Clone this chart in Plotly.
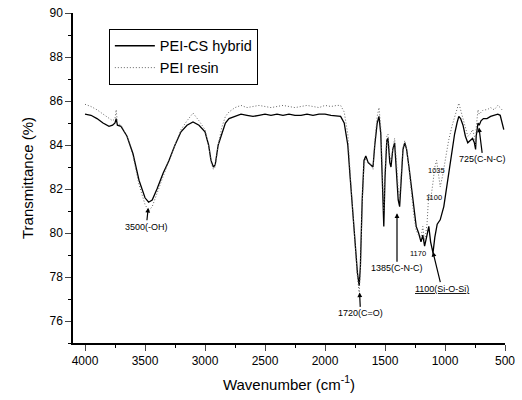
import plotly.graph_objects as go

wn_hybrid = [4000,3950,3900,3850,3800,3770,3750,3740,3730,3700,3650,3600,3550,3500,3470,3440,3400,3350,3300,3250,3200,3150,3100,3050,3000,2970,2950,2930,2915,2890,2860,2830,2800,2750,2700,2650,2600,2550,2500,2450,2400,2350,2300,2250,2200,2150,2100,2050,2000,1950,1900,1870,1840,1810,1790,1770,1750,1730,1715,1705,1690,1675,1660,1640,1620,1600,1585,1565,1550,1535,1520,1510,1500,1485,1475,1460,1450,1435,1420,1405,1390,1378,1365,1350,1335,1320,1300,1280,1260,1240,1220,1200,1185,1170,1150,1135,1120,1100,1085,1065,1040,1010,980,950,920,900,885,870,850,830,810,790,770,755,745,740,730,725,715,700,680,650,620,590,560,540,525,510]
t_hybrid = [85.4,85.35,85.2,85.0,84.85,84.9,85.0,85.2,84.9,84.85,84.4,83.6,82.4,81.6,81.4,81.5,82.0,82.7,83.3,84.0,84.6,84.9,85.05,84.9,84.6,84.0,83.3,83.0,83.1,84.0,84.5,85.0,85.2,85.3,85.4,85.35,85.3,85.35,85.4,85.35,85.4,85.35,85.4,85.35,85.35,85.4,85.35,85.4,85.4,85.35,85.3,85.3,85.0,84.0,82.5,81.0,79.5,78.2,77.6,78.5,81.5,83.3,83.5,83.2,83.1,83.0,84.0,85.0,85.3,84.5,82.0,80.3,82.5,84.2,84.3,83.2,83.0,83.8,84.1,83.0,81.5,81.2,82.5,83.8,84.1,83.8,83.0,82.0,81.0,80.3,80.0,79.6,79.9,79.4,79.9,80.3,79.6,79.1,79.8,80.4,80.6,81.2,82.3,83.4,84.5,85.0,85.3,85.2,84.9,84.4,84.1,84.2,84.3,84.1,83.8,84.4,84.8,85.0,84.9,85.1,85.2,85.2,85.3,85.35,85.4,85.35,85.0,84.7]

wn_resin = [4000,3950,3900,3850,3800,3770,3750,3740,3730,3700,3650,3600,3550,3500,3470,3440,3400,3350,3300,3250,3200,3150,3100,3050,3000,2970,2950,2930,2915,2890,2860,2830,2800,2750,2700,2650,2600,2550,2500,2450,2400,2350,2300,2250,2200,2150,2100,2050,2000,1950,1900,1870,1840,1810,1790,1770,1750,1730,1715,1705,1690,1675,1660,1640,1620,1600,1585,1565,1550,1535,1520,1510,1500,1485,1475,1460,1450,1435,1420,1405,1390,1378,1365,1350,1335,1320,1300,1280,1260,1240,1220,1200,1185,1170,1150,1135,1120,1100,1085,1070,1055,1040,1020,1000,970,940,910,885,870,850,830,810,790,770,755,745,740,730,725,715,700,680,650,620,590,560,540,525,510]
t_resin = [85.85,85.75,85.6,85.4,85.2,85.1,85.2,85.6,85.0,84.9,84.4,83.5,82.2,81.3,81.0,81.2,81.8,82.6,83.3,84.0,84.7,85.1,85.45,85.1,84.7,84.0,83.2,82.9,83.0,84.0,84.8,85.3,85.5,85.7,85.8,85.7,85.75,85.8,85.75,85.7,85.75,85.8,85.75,85.7,85.75,85.8,85.75,85.7,85.8,85.75,85.8,85.8,85.5,84.5,82.7,81.0,79.3,78.0,77.3,78.3,81.3,83.1,83.4,83.2,83.1,82.9,84.2,85.3,85.7,84.8,82.5,81.0,82.8,84.4,84.5,83.5,83.3,83.9,84.3,83.3,82.0,81.6,82.8,83.9,84.2,83.8,82.9,81.8,80.8,80.1,79.9,79.8,80.3,79.6,80.4,81.8,81.5,82.3,83.0,83.3,82.8,82.1,82.6,83.3,84.2,84.9,85.5,85.9,85.6,85.2,84.7,84.4,84.5,84.7,84.4,84.0,84.8,85.4,85.6,85.4,85.5,85.6,85.6,85.7,85.6,85.8,85.7,85.6,85.6]

series_names = ["PEI-CS hybrid", "PEI resin"]
x_ticks = [4000, 3500, 3000, 2500, 2000, 1500, 1000, 500]
y_ticks = [76, 78, 80, 82, 84, 86, 88, 90]

fig = go.Figure()
fig.add_trace(go.Scatter(x=wn_hybrid, y=t_hybrid, mode="lines", name=series_names[0],
                         line=dict(color="black", width=1.3)))
fig.add_trace(go.Scatter(x=wn_resin, y=t_resin, mode="lines", name=series_names[1],
                         line=dict(color="#666666", width=1, dash="1px,2px")))

FONT = "Liberation Sans, Arial, sans-serif"

def ann(x, y, text, ax=0, ay=0, arrow=False, size=9):
    fig.add_annotation(x=x, y=y, text=text, showarrow=arrow, ax=ax, ay=ay,
                       arrowhead=2, arrowsize=0.8, arrowwidth=1.2, arrowcolor="black",
                       font=dict(family=FONT, size=size, color="black"))

ann(3473, 81.15, "3500(-OH)", ax=-2, ay=19, arrow=True)
ann(1712, 77.3, "1720(C=O)", ax=1, ay=21, arrow=True)
ann(1400, 80.9, "1385(C-N-C)", ax=0, ay=55, arrow=True)
ann(1101, 79.15, "<u>1100(Si-O-Si)</u>", ax=9, ay=37, arrow=True)
ann(717, 84.8, "725(C-N-C)", ax=4, ay=32, arrow=True)
ann(1226, 79.05, "1170", size=7.5)
ann(1092, 81.6, "1100", size=7.5)
ann(1067, 82.86, "1035", size=7.5)

fig.update_layout(
    width=522, height=400,
    margin=dict(l=73, r=17, t=13, b=57),
    paper_bgcolor="white", plot_bgcolor="white",
    font=dict(family=FONT, color="black", size=12),
    showlegend=True,
    legend=dict(x=0.083, y=0.952, xanchor="left", yanchor="top",
                bordercolor="black", borderwidth=1, bgcolor="white",
                font=dict(size=14.5), tracegroupgap=0, itemwidth=40),
)
fig.update_xaxes(range=[4100, 500], tickvals=x_ticks, ticks="outside", ticklen=6,
                 showline=True, linecolor="black", linewidth=1.5, showgrid=False, zeroline=False,
                 automargin=False,
                 minor=dict(dtick=250, ticks="outside", ticklen=3, tickcolor="black"),
                 title=dict(text="Wavenumber (cm<sup>-1</sup>)", font=dict(size=15), standoff=12))
fig.update_yaxes(range=[75, 90], tickvals=y_ticks, ticks="outside", ticklen=6,
                 showline=True, linecolor="black", linewidth=1.5, showgrid=False, zeroline=False,
                 automargin=False,
                 minor=dict(dtick=1, ticks="outside", ticklen=3, tickcolor="black"),
                 title=dict(text="Transmittance (%)", font=dict(size=15), standoff=12))

fig.write_html("out.html", config={"displayModeBar": False},
               post_script="document.body.style.margin='0';")
